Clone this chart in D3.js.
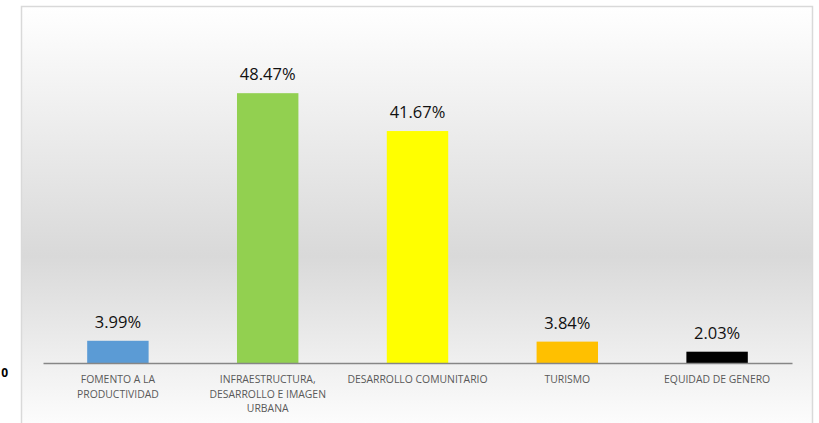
<!doctype html>
<html>
  <head>
    <meta charset="utf-8">
    <title>Bar</title>
    <script src="https://cdn.jsdelivr.net/npm/d3@7"></script>
    <style>
      body { margin: 0; background: #fff; }
    </style>
  </head>
  <body>
    <script>
      const svgWidth = 819;
      const svgHeight = 423;

      // data
      const categories = [
        'FOMENTO A LA PRODUCTIVIDAD',
        'INFRAESTRUCTURA, DESARROLLO E IMAGEN URBANA',
        'DESARROLLO COMUNITARIO',
        'TURISMO',
        'EQUIDAD DE GENERO'
      ];
      const labelLines = [
        ['FOMENTO A LA', 'PRODUCTIVIDAD'],
        ['INFRAESTRUCTURA,', 'DESARROLLO E IMAGEN', 'URBANA'],
        ['DESARROLLO COMUNITARIO'],
        ['TURISMO'],
        ['EQUIDAD DE GENERO']
      ];
      const values = [3.99, 48.47, 41.67, 3.84, 2.03];
      const colors = ['#5B9BD5', '#92D050', '#FFFF00', '#FFC000', '#000000'];

      const svg = d3.select('body').append('svg')
          .attr('width', svgWidth)
          .attr('height', svgHeight);

      // background gradient
      const grad = svg.append('defs').append('linearGradient')
          .attr('id', 'bg')
          .attr('x1', 0).attr('y1', 0).attr('x2', 0).attr('y2', 1);
      grad.append('stop').attr('offset', '0%').attr('stop-color', '#ffffff');
      grad.append('stop').attr('offset', '58%').attr('stop-color', '#d9d9d9');
      grad.append('stop').attr('offset', '100%').attr('stop-color', '#ffffff');

      svg.append('rect')
          .attr('x', 21.5).attr('y', 6.5)
          .attr('width', 791).attr('height', 430)
          .attr('fill', 'url(#bg)')
          .attr('stroke', '#d9d9d9')
          .attr('stroke-width', 1.5);

      const x = d3.scaleBand()
          .domain(categories)
          .range([43, 792])
          .paddingInner(0.59)
          .paddingOuter(0.295);

      const y = d3.scaleLinear()
          .domain([0, 60])
          .range([363, 29]);

      // bars
      svg.append('g')
        .selectAll('rect')
        .data(values)
        .enter().append('rect')
          .attr('x', (d, i) => x(categories[i]))
          .attr('y', d => y(d))
          .attr('width', x.bandwidth())
          .attr('height', d => y(0) - y(d))
          .attr('fill', (d, i) => colors[i]);

      // value labels
      svg.append('g')
        .selectAll('text')
        .data(values)
        .enter().append('text')
          .attr('x', (d, i) => x(categories[i]) + x.bandwidth() / 2)
          .attr('y', d => y(d) - 13)
          .attr('text-anchor', 'middle')
          .attr('font-family', 'Open Sans, sans-serif')
          .attr('font-size', 16.5)
          .attr('fill', '#111')
          .text(d => d.toFixed(2) + '%');

      // x axis
      const xAxis = svg.append('g')
          .attr('transform', `translate(0,${y(0)})`)
          .call(d3.axisBottom(x).tickSize(0).tickFormat(''));
      xAxis.select('.domain').attr('stroke', '#868686').attr('stroke-width', 1.3);

      const ticks = svg.append('g')
        .selectAll('text')
        .data(categories)
        .enter().append('text')
          .attr('x', d => x(d) + x.bandwidth() / 2)
          .attr('y', 383)
          .attr('text-anchor', 'middle')
          .attr('font-family', 'Open Sans, sans-serif')
          .attr('font-size', 10.4)
          .attr('fill', '#595959');
      ticks.each(function (d, i) {
        d3.select(this).selectAll('tspan')
          .data(labelLines[i])
          .enter().append('tspan')
            .attr('x', x(d) + x.bandwidth() / 2)
            .attr('dy', (t, j) => j === 0 ? 0 : 14.5)
            .text(t => t);
      });

      // stray zero label at left
      svg.append('text')
          .attr('x', 8)
          .attr('y', 377)
          .attr('text-anchor', 'end')
          .attr('font-family', 'Open Sans, sans-serif')
          .attr('font-weight', 'bold')
          .attr('font-size', 12)
          .attr('fill', '#000')
          .text('0');
    </script>
  </body>
</html>
